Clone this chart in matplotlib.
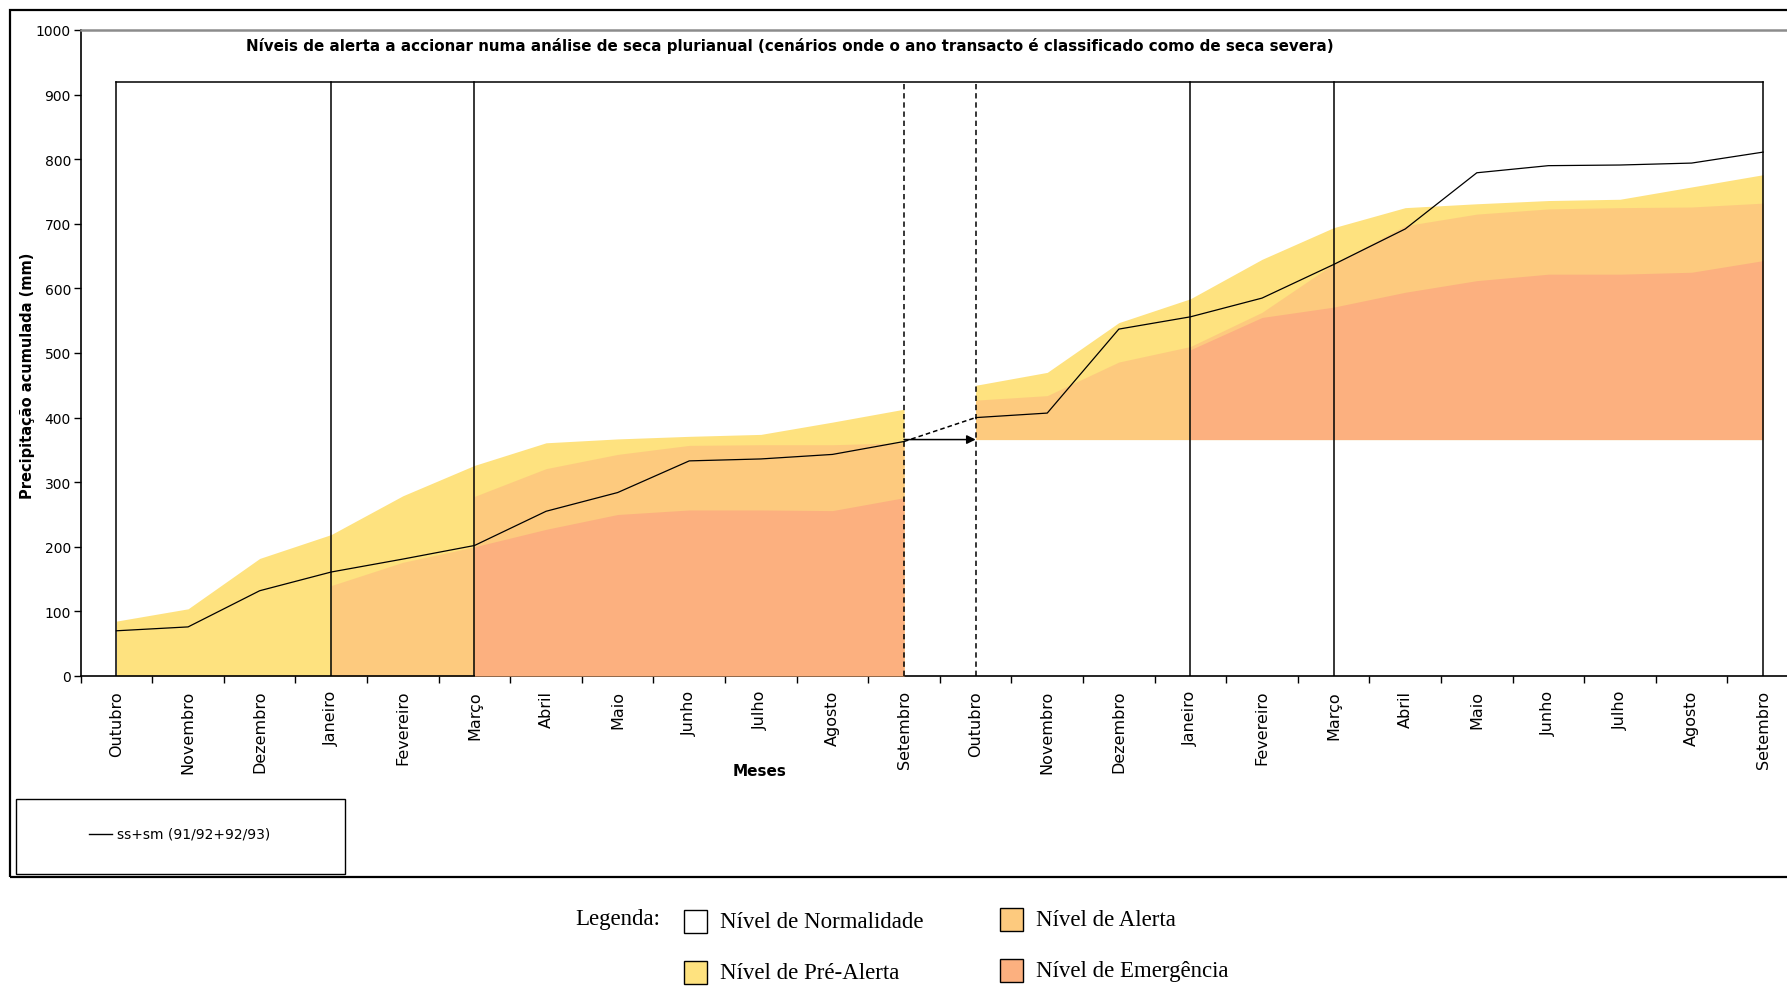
import numpy as np
import matplotlib.pyplot as plt
from matplotlib.patches import Rectangle
from matplotlib.lines import Line2D

# --- dados ---
meses = ["Outubro", "Novembro", "Dezembro", "Janeiro", "Fevereiro", "Março",
         "Abril", "Maio", "Junho", "Julho", "Agosto", "Setembro"] * 2

# precipitação acumulada observada ss+sm (91/92+92/93)
ss_sm = [70, 76, 132, 161, 181, 202, 255, 284, 333, 336, 343, 363,
         400, 407, 537, 556, 585, 637, 692, 779, 790, 791, 794, 811]

# limites superiores dos níveis, ano 1 (Out..Set)
pre_alerta_1 = [85, 104, 182, 219, 279, 326, 361, 367, 371, 374, 393, 413]
alerta_1a = [140, 176, 200]                          # Jan..Mar
alerta_1b = [278, 321, 343, 357, 358, 358, 361]      # Mar..Set
emergencia_1 = [200, 227, 250, 257, 257, 256, 276]   # Mar..Set

# ano 2 (Out..Set), base no valor transitado do ano anterior
base_2 = 366
pre_alerta_2 = [450, 470, 547, 584, 645, 694, 725, 731, 736, 738, 757, 776]
alerta_2 = [427, 434, 486, 510, 563, 638, 697, 715, 723, 725, 726, 732]
emergencia_2 = [505, 555, 571, 594, 612, 622, 622, 625, 643]   # Jan..Set

yticks = list(range(0, 1001, 100))
titulo = ("Níveis de alerta a accionar numa análise de seca plurianual "
          "(cenários onde o ano transacto é classificado como de seca severa)")

COR_PRE = "#FEE27F"
COR_ALERTA = "#FDCA7E"
COR_EMERG = "#FCB07F"

W, H = 1787, 987


def fx(px):
    return px / W


def fy(py):
    return 1 - py / H


fig = plt.figure(figsize=(W / 100, H / 100), dpi=100)
ax = fig.add_axes([fx(80.7), fy(677), fx(1799) - fx(80.7), fy(31) - fy(677)])

x = np.arange(len(meses))
x1 = x[:12]
x2 = x[12:]

# areas ano 1
ax.fill_between(x1, 0, pre_alerta_1, color=COR_PRE, lw=0, zorder=1)
ax.fill_between(x1[3:6], 0, alerta_1a, color=COR_ALERTA, lw=0, zorder=2)
ax.fill_between(x1[5:], 0, alerta_1b, color=COR_ALERTA, lw=0, zorder=2)
ax.fill_between(x1[5:], 0, emergencia_1, color=COR_EMERG, lw=0, zorder=3)
# areas ano 2
ax.fill_between(x2, base_2, pre_alerta_2, color=COR_PRE, lw=0, zorder=1)
ax.fill_between(x2, base_2, alerta_2, color=COR_ALERTA, lw=0, zorder=2)
ax.fill_between(x2[3:], base_2, emergencia_2, color=COR_EMERG, lw=0, zorder=3)

# linhas de separação
for xv in [0, 3, 5, 15, 17, 23]:
    ax.plot([xv, xv], [0, 920], color="black", lw=1.1, zorder=5)
for xv in [11, 12]:
    ax.plot([xv, xv], [0, 920], color="black", lw=1.1, ls=(0, (3.5, 2.5)), zorder=5)
ax.plot([0, 23], [920, 920], color="black", lw=1.1, zorder=5)

# série observada
ax.plot(x1, ss_sm[:12], color="black", lw=0.9, zorder=6)
ax.plot(x2, ss_sm[12:], color="black", lw=0.9, zorder=6)
ax.plot(x[11:13], ss_sm[11:13], color="black", lw=1.1, ls=(0, (3, 2)), zorder=6)
ax.annotate("", xy=(12, base_2), xytext=(11, base_2),
            arrowprops=dict(arrowstyle="-|>", color="black", lw=1.1,
                            mutation_scale=13, shrinkA=0, shrinkB=0), zorder=7)

ax.set_xlim(-0.5, 23.5)
ax.set_ylim(0, 1000)
ax.set_yticks(yticks)
ax.set_yticklabels([str(v) for v in yticks], fontsize=10)
ax.set_xticks(x)
ax.set_xticklabels(meses, rotation=90, fontsize=11.5, va="top", ha="center")
ax.set_xticks(np.arange(-0.5, 24, 1), minor=True)
ax.tick_params(axis="x", which="major", length=0, pad=10)
ax.tick_params(axis="x", which="minor", length=5, width=1)
ax.tick_params(axis="y", length=5, width=1, pad=2)

for s in ["left", "bottom"]:
    ax.spines[s].set_color("black")
    ax.spines[s].set_linewidth(1.2)
ax.spines["top"].set_color("#8c8c8c")
ax.spines["top"].set_linewidth(1.8)
ax.spines["right"].set_visible(False)

fig.text(fx(790), fy(46), titulo, fontsize=10.9, fontweight="bold",
         ha="center", va="center")
fig.text(fx(28), fy(376), "Precipitação acumulada (mm)", fontsize=10.5,
         fontweight="bold", rotation=90, ha="center", va="center")
fig.text(fx(760), fy(772), "Meses", fontsize=11, fontweight="bold",
         ha="center", va="center")

# moldura exterior
fig.add_artist(Rectangle((fx(10), fy(878)), fx(1800) - fx(10), fy(11) - fy(878),
                         transform=fig.transFigure, fill=False, ec="black", lw=1.6))

# legenda da série
fig.add_artist(Rectangle((fx(16), fy(875)), fx(345) - fx(16), fy(800) - fy(875),
                         transform=fig.transFigure, fill=False, ec="black", lw=1.0))
fig.add_artist(Line2D([fx(89), fx(112)], [fy(835), fy(835)],
                      transform=fig.transFigure, color="black", lw=1.0))
fig.text(fx(117), fy(835), "ss+sm (91/92+92/93)", fontsize=10, ha="left", va="center")

# legenda dos níveis
fig.text(fx(575), fy(920), "Legenda:", fontsize=16.5, family="Liberation Serif",
         ha="left", va="center")
niveis = [("Nível de Normalidade", "white", 684, 922),
          ("Nível de Pré-Alerta", COR_PRE, 684, 973),
          ("Nível de Alerta", COR_ALERTA, 1000, 920),
          ("Nível de Emergência", COR_EMERG, 1000, 971)]
for nome, cor, px, py in niveis:
    fig.add_artist(Rectangle((fx(px), fy(py + 12)), fx(23), 23 / H,
                             transform=fig.transFigure, fc=cor, ec="black", lw=1.0))
    fig.text(fx(px + 36), fy(py + 1), nome, fontsize=16.5, family="Liberation Serif",
             ha="left", va="center")

fig.savefig("out.png", dpi=100, facecolor="white")
